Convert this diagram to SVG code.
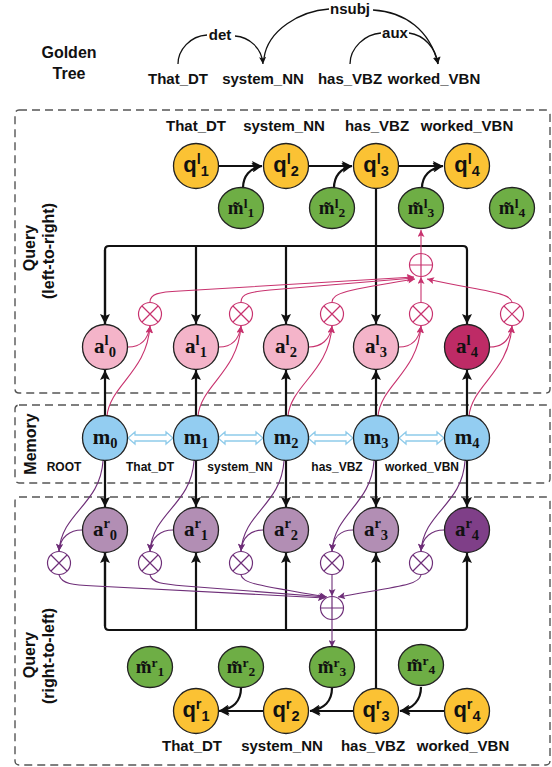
<svg xmlns="http://www.w3.org/2000/svg" width="552" height="767" viewBox="0 0 552 767">
<style>
text{font-family:"Liberation Sans",Arial,sans-serif;font-weight:bold;fill:#111}
.lbl{font-size:15px;text-anchor:middle}
.sm{font-size:12px;text-anchor:middle}
.side{font-size:16px;text-anchor:middle}
.box{fill:none;stroke:#555;stroke-width:1.4;stroke-dasharray:8 5}
.q{fill:#FBC234;stroke:#222;stroke-width:1.3}
.mt{fill:#6EAE45;stroke:#222;stroke-width:1.3}
.al{fill:#F4B4C9;stroke:#222;stroke-width:1.3}
.al4{fill:#BE2B66;stroke:#222;stroke-width:1.3}
.ar{fill:#B28EB4;stroke:#222;stroke-width:1.3}
.ar4{fill:#7F3F88;stroke:#222;stroke-width:1.3}
.m{fill:#93CDF1;stroke:#222;stroke-width:1.3}
.qt{font-size:22px;text-anchor:middle}
.st{font-family:"Liberation Serif","Times New Roman",serif;font-size:21px;text-anchor:middle}
.mtt{font-family:"Liberation Serif","Times New Roman",serif;font-size:19px;text-anchor:middle}
.sp{font-size:14.5px}
.sp2{font-size:13.5px}
.blk{fill:none;stroke:#111;stroke-width:2.2}
.thin{fill:none;stroke:#111;stroke-width:1.3}
.pk{fill:none;stroke:#C8326E;stroke-width:1.1}
.pu{fill:none;stroke:#6E2E78;stroke-width:1.1}
.opk{fill:#fff;stroke:#C8326E;stroke-width:1.2}
.opu{fill:#fff;stroke:#6E2E78;stroke-width:1.2}
.hol{fill:#fff;stroke:#8FCBEA;stroke-width:1.3}
</style>
<defs>
<marker id="ab" viewBox="0 0 10 10" refX="10" refY="5" markerWidth="11" markerHeight="10" markerUnits="userSpaceOnUse" orient="auto"><path d="M0,0 L10,5 L0,10 L2,5z" fill="#111"/></marker>
<marker id="at" viewBox="0 0 10 10" refX="10" refY="5" markerWidth="8" markerHeight="7" markerUnits="userSpaceOnUse" orient="auto"><path d="M0,0 L10,5 L0,10 L2,5z" fill="#111"/></marker>
<marker id="ap" viewBox="0 0 10 10" refX="10" refY="5" markerWidth="8" markerHeight="7" markerUnits="userSpaceOnUse" orient="auto"><path d="M0,0 L10,5 L0,10 L2,5z" fill="#C8326E"/></marker>
<marker id="au" viewBox="0 0 10 10" refX="10" refY="5" markerWidth="8" markerHeight="7" markerUnits="userSpaceOnUse" orient="auto"><path d="M0,0 L10,5 L0,10 L2,5z" fill="#6E2E78"/></marker>
<g id="otimes-pk"><circle r="11.5" class="opk"/><path d="M-8,-8 L8,8 M-8,8 L8,-8" stroke="#C8326E" stroke-width="1.2"/></g>
<g id="otimes-pu"><circle r="11.5" class="opu"/><path d="M-8,-8 L8,8 M-8,8 L8,-8" stroke="#6E2E78" stroke-width="1.2"/></g>
<path id="dbl" d="M0,0 L7,-6 L7,-3 L38,-3 L38,-6 L45,0 L38,6 L38,3 L7,3 L7,6 Z" class="hol"/>
</defs>

<!-- Golden tree -->
<g id="golden">
<text x="69" y="58" class="side">Golden</text>
<text x="69" y="79" class="side">Tree</text>
<text x="178" y="84" class="lbl">That_DT</text>
<text x="263" y="84" class="lbl">system_NN</text>
<text x="350" y="84" class="lbl">has_VBZ</text>
<text x="434" y="84" class="lbl">worked_VBN</text>
<text x="220" y="40" class="lbl">det</text>
<text x="350" y="14" class="lbl">nsubj</text>
<text x="395" y="38" class="lbl">aux</text>
<path class="thin" d="M178,64 C178,50 190,36 207,35"/>
<path class="thin" d="M235,36 C249,37 262,48 263,64" marker-end="url(#at)"/>
<path class="thin" d="M264,58 C268,30 300,11 329,9"/>
<path class="thin" d="M373,10 C405,12 430,30 438,64" marker-end="url(#at)"/>
<path class="thin" d="M350,64 C350,48 365,34 381,33"/>
<path class="thin" d="M409,33 C424,35 436,48 438,64" marker-end="url(#at)"/>
</g>

<!-- dashed boxes -->
<rect class="box" x="15" y="110" width="535" height="283" rx="4"/>
<rect class="box" x="15" y="405" width="535" height="78" rx="4"/>
<rect class="box" x="15" y="497" width="535" height="268" rx="4"/>
<g id="sidelabels">
<text class="side" transform="translate(35,248) rotate(-90)">Query</text>
<text class="side" transform="translate(54,251) rotate(-90)">(left-to-right)</text>
<text class="side" transform="translate(36,444) rotate(-90)">Memory</text>
<text class="side" transform="translate(35,655) rotate(-90)">Query</text>
<text class="side" transform="translate(54,656) rotate(-90)">(right-to-left)</text>
</g>

<!-- connectors -->
<g id="connectors">
<path class="blk" d="M218,166 L262,166" marker-end="url(#ab)"/>
<path class="blk" d="M308,166 L352,166" marker-end="url(#ab)"/>
<path class="blk" d="M399,166 L443,166" marker-end="url(#ab)"/>
<path class="blk" d="M243,188 C243,176 250,168 262,166" marker-end="url(#ab)"/>
<path class="blk" d="M334,188 C334,176 341,168 352,166" marker-end="url(#ab)"/>
<path class="blk" d="M422,188 C422,176 430,168 443,166" marker-end="url(#ab)"/>
<path class="blk" d="M376,189 L376,246"/>
<path class="blk" d="M105,324 L105,250 Q105,246 109,246 L463,246 Q467,246 467,250 L467,324" marker-end="url(#ab)"/>
<path class="blk" d="M105,250 L105,324" marker-end="url(#ab)"/>
<path class="blk" d="M196,246 L196,324" marker-end="url(#ab)"/>
<path class="blk" d="M286,246 L286,324" marker-end="url(#ab)"/>
<path class="blk" d="M376,246 L376,324" marker-end="url(#ab)"/>
<path class="blk" d="M105,415 L105,370" marker-end="url(#ab)"/>
<path class="blk" d="M196,415 L196,370" marker-end="url(#ab)"/>
<path class="blk" d="M286,415 L286,370" marker-end="url(#ab)"/>
<path class="blk" d="M376,415 L376,370" marker-end="url(#ab)"/>
<path class="blk" d="M467,415 L467,370" marker-end="url(#ab)"/>
<path class="blk" d="M105,461 L105,507" marker-end="url(#ab)"/>
<path class="blk" d="M196,461 L196,507" marker-end="url(#ab)"/>
<path class="blk" d="M286,461 L286,507" marker-end="url(#ab)"/>
<path class="blk" d="M376,461 L376,507" marker-end="url(#ab)"/>
<path class="blk" d="M467,461 L467,507" marker-end="url(#ab)"/>
<path class="blk" d="M105,553 L105,626 Q105,630 109,630 L463,630 Q467,630 467,626 L467,553" marker-end="url(#ab)"/>
<path class="blk" d="M105,626 L105,553" marker-end="url(#ab)"/>
<path class="blk" d="M196,630 L196,553" marker-end="url(#ab)"/>
<path class="blk" d="M286,630 L286,553" marker-end="url(#ab)"/>
<path class="blk" d="M376,688 L376,553" marker-end="url(#ab)"/>
<path class="blk" d="M444,711 L400,711" marker-end="url(#ab)"/>
<path class="blk" d="M354,711 L310,711" marker-end="url(#ab)"/>
<path class="blk" d="M263,711 L219,711" marker-end="url(#ab)"/>
<path class="blk" d="M421,687 C421,700 413,709 400,711" marker-end="url(#ab)"/>
<path class="blk" d="M332,688 C332,701 324,709 310,711" marker-end="url(#ab)"/>
<path class="blk" d="M241,688 C241,701 233,709 219,711" marker-end="url(#ab)"/>

<use href="#dbl" x="128" y="438"/>
<use href="#dbl" x="218" y="438"/>
<use href="#dbl" x="308" y="438"/>
<use href="#dbl" x="399" y="438"/>

<path class="pk" d="M128,347 C140,347 148,340 150,326" marker-end="url(#ap)"/>
<path class="pk" d="M107,416 C110,385 147,372 150,326" marker-end="url(#ap)"/>
<path class="pk" d="M219,347 C231,347 239,340 241,326" marker-end="url(#ap)"/>
<path class="pk" d="M198,416 C201,385 238,372 241,326" marker-end="url(#ap)"/>
<path class="pk" d="M309,347 C321,347 330,340 332,326" marker-end="url(#ap)"/>
<path class="pk" d="M288,416 C291,385 329,372 332,326" marker-end="url(#ap)"/>
<path class="pk" d="M399,347 C411,347 419,340 421,326" marker-end="url(#ap)"/>
<path class="pk" d="M378,416 C381,385 418,372 421,326" marker-end="url(#ap)"/>
<path class="pk" d="M490,347 C502,347 510,340 512,326" marker-end="url(#ap)"/>
<path class="pk" d="M469,416 C472,385 509,372 512,326" marker-end="url(#ap)"/>
<path class="pk" d="M150,302 C150,294 158,292 180,291 L414,277" marker-end="url(#ap)"/>
<path class="pk" d="M241,302 C241,294 249,292 270,290 L414,278" marker-end="url(#ap)"/>
<path class="pk" d="M332,302 C333,293 345,290 415,279" marker-end="url(#ap)"/>
<path class="pk" d="M421,302 L421,277" marker-end="url(#ap)"/>
<path class="pk" d="M512,302 C510,292 480,291 427,279" marker-end="url(#ap)"/>
<path class="pk" d="M421,253 L421,230" marker-end="url(#ap)"/>

<path class="pu" d="M103,461 C100,505 62,512 59,551" marker-end="url(#au)"/>
<path class="pu" d="M82,530 C70,530 60,537 59,551" marker-end="url(#au)"/>
<path class="pu" d="M194,461 C191,505 153,512 150,551" marker-end="url(#au)"/>
<path class="pu" d="M173,530 C161,530 151,537 150,551" marker-end="url(#au)"/>
<path class="pu" d="M284,461 C281,505 244,512 241,551" marker-end="url(#au)"/>
<path class="pu" d="M263,530 C251,530 242,537 241,551" marker-end="url(#au)"/>
<path class="pu" d="M374,461 C371,505 335,512 332,551" marker-end="url(#au)"/>
<path class="pu" d="M353,530 C341,530 333,537 332,551" marker-end="url(#au)"/>
<path class="pu" d="M465,461 C462,505 424,512 421,551" marker-end="url(#au)"/>
<path class="pu" d="M444,530 C432,530 422,537 421,551" marker-end="url(#au)"/>
<path class="pu" d="M59,575 C62,584 72,585 95,586 L325,598" marker-end="url(#au)"/>
<path class="pu" d="M150,575 C152,583 162,584 185,586 L326,597" marker-end="url(#au)"/>
<path class="pu" d="M241,575 C243,583 255,585 327,597" marker-end="url(#au)"/>
<path class="pu" d="M332,575 L332,596" marker-end="url(#au)"/>
<path class="pu" d="M421,575 C419,585 400,586 338,597" marker-end="url(#au)"/>
<path class="pu" d="M332,620 L332,647" marker-end="url(#au)"/>
</g>

<g id="mul-l0"><use href="#otimes-pk" x="150" y="314"/></g>
<g id="mul-l1"><use href="#otimes-pk" x="241" y="314"/></g>
<g id="mul-l2"><use href="#otimes-pk" x="332" y="314"/></g>
<g id="mul-l3"><use href="#otimes-pk" x="421" y="314"/></g>
<g id="mul-l4"><use href="#otimes-pk" x="512" y="314"/></g>
<g id="sum-l"><circle cx="421" cy="265" r="11.5" class="opk"/><path d="M409.5,265 L432.5,265 M421,253.5 L421,276.5" stroke="#C8326E" stroke-width="1.2"/></g>
<g id="mul-r0"><use href="#otimes-pu" x="59" y="563"/></g>
<g id="mul-r1"><use href="#otimes-pu" x="150" y="563"/></g>
<g id="mul-r2"><use href="#otimes-pu" x="241" y="563"/></g>
<g id="mul-r3"><use href="#otimes-pu" x="332" y="563"/></g>
<g id="mul-r4"><use href="#otimes-pu" x="421" y="563"/></g>
<g id="sum-r"><circle cx="332" cy="608" r="11.5" class="opu"/><path d="M320.5,608 L343.5,608 M332,596.5 L332,619.5" stroke="#6E2E78" stroke-width="1.2"/></g>

<g id="lbl-l">
<text x="196" y="131" class="lbl">That_DT</text>
<text x="284" y="131" class="lbl">system_NN</text>
<text x="377" y="131" class="lbl">has_VBZ</text>
<text x="467" y="131" class="lbl">worked_VBN</text>
</g>
<g id="ql1"><circle cx="196" cy="166" r="22.5" class="q"/><text x="196" y="172" class="qt">q<tspan class="sp" dy="-8">l</tspan><tspan class="sp" dy="12">1</tspan></text></g>
<g id="ql2"><circle cx="286" cy="166" r="22.5" class="q"/><text x="286" y="172" class="qt">q<tspan class="sp" dy="-8">l</tspan><tspan class="sp" dy="12">2</tspan></text></g>
<g id="ql3"><circle cx="376" cy="166" r="22.5" class="q"/><text x="376" y="172" class="qt">q<tspan class="sp" dy="-8">l</tspan><tspan class="sp" dy="12">3</tspan></text></g>
<g id="ql4"><circle cx="467" cy="166" r="22.5" class="q"/><text x="467" y="172" class="qt">q<tspan class="sp" dy="-8">l</tspan><tspan class="sp" dy="12">4</tspan></text></g>
<g id="mtl1"><ellipse cx="241" cy="208" rx="22.5" ry="20.5" class="mt"/><text x="241" y="214" class="mtt">m̃<tspan class="sp2" dy="-6">l</tspan><tspan class="sp2" dy="9">1</tspan></text></g>
<g id="mtl2"><ellipse cx="332" cy="208" rx="22.5" ry="20.5" class="mt"/><text x="332" y="214" class="mtt">m̃<tspan class="sp2" dy="-6">l</tspan><tspan class="sp2" dy="9">2</tspan></text></g>
<g id="mtl3"><ellipse cx="421" cy="208" rx="22.5" ry="20.5" class="mt"/><text x="421" y="214" class="mtt">m̃<tspan class="sp2" dy="-6">l</tspan><tspan class="sp2" dy="9">3</tspan></text></g>
<g id="mtl4"><ellipse cx="512" cy="208" rx="22.5" ry="20.5" class="mt"/><text x="512" y="214" class="mtt">m̃<tspan class="sp2" dy="-6">l</tspan><tspan class="sp2" dy="9">4</tspan></text></g>
<g id="al0"><circle cx="105" cy="347" r="22.5" class="al"/><text x="105" y="353" class="st">a<tspan class="sp" dy="-8">l</tspan><tspan class="sp" dy="12">0</tspan></text></g>
<g id="al1"><circle cx="196" cy="347" r="22.5" class="al"/><text x="196" y="353" class="st">a<tspan class="sp" dy="-8">l</tspan><tspan class="sp" dy="12">1</tspan></text></g>
<g id="al2"><circle cx="286" cy="347" r="22.5" class="al"/><text x="286" y="353" class="st">a<tspan class="sp" dy="-8">l</tspan><tspan class="sp" dy="12">2</tspan></text></g>
<g id="al3"><circle cx="376" cy="347" r="22.5" class="al"/><text x="376" y="353" class="st">a<tspan class="sp" dy="-8">l</tspan><tspan class="sp" dy="12">3</tspan></text></g>
<g id="al4"><circle cx="467" cy="347" r="22.5" class="al4"/><text x="467" y="353" class="st">a<tspan class="sp" dy="-8">l</tspan><tspan class="sp" dy="12">4</tspan></text></g>

<g id="m0"><circle cx="105" cy="438" r="22.5" class="m"/><text x="105" y="444" class="st">m<tspan class="sp" dy="4">0</tspan></text></g>
<g id="m1"><circle cx="196" cy="438" r="22.5" class="m"/><text x="196" y="444" class="st">m<tspan class="sp" dy="4">1</tspan></text></g>
<g id="m2"><circle cx="286" cy="438" r="22.5" class="m"/><text x="286" y="444" class="st">m<tspan class="sp" dy="4">2</tspan></text></g>
<g id="m3"><circle cx="376" cy="438" r="22.5" class="m"/><text x="376" y="444" class="st">m<tspan class="sp" dy="4">3</tspan></text></g>
<g id="m4"><circle cx="467" cy="438" r="22.5" class="m"/><text x="467" y="444" class="st">m<tspan class="sp" dy="4">4</tspan></text></g>
<g id="lbl-m">
<text x="64" y="471" class="sm">ROOT</text>
<text x="150" y="471" class="sm">That_DT</text>
<text x="240" y="471" class="sm">system_NN</text>
<text x="337" y="471" class="sm">has_VBZ</text>
<text x="422" y="471" class="sm">worked_VBN</text>
</g>

<g id="ar0"><circle cx="105" cy="530" r="22.5" class="ar"/><text x="105" y="536" class="st">a<tspan class="sp" dy="-8">r</tspan><tspan class="sp" dy="12">0</tspan></text></g>
<g id="ar1"><circle cx="196" cy="530" r="22.5" class="ar"/><text x="196" y="536" class="st">a<tspan class="sp" dy="-8">r</tspan><tspan class="sp" dy="12">1</tspan></text></g>
<g id="ar2"><circle cx="286" cy="530" r="22.5" class="ar"/><text x="286" y="536" class="st">a<tspan class="sp" dy="-8">r</tspan><tspan class="sp" dy="12">2</tspan></text></g>
<g id="ar3"><circle cx="376" cy="530" r="22.5" class="ar"/><text x="376" y="536" class="st">a<tspan class="sp" dy="-8">r</tspan><tspan class="sp" dy="12">3</tspan></text></g>
<g id="ar4"><circle cx="467" cy="530" r="22.5" class="ar4"/><text x="467" y="536" class="st">a<tspan class="sp" dy="-8">r</tspan><tspan class="sp" dy="12">4</tspan></text></g>
<g id="mtr1"><ellipse cx="150" cy="667" rx="22.5" ry="20.5" class="mt"/><text x="150" y="673" class="mtt">m̃<tspan class="sp2" dy="-6">r</tspan><tspan class="sp2" dy="9">1</tspan></text></g>
<g id="mtr2"><ellipse cx="241" cy="667" rx="22.5" ry="20.5" class="mt"/><text x="241" y="673" class="mtt">m̃<tspan class="sp2" dy="-6">r</tspan><tspan class="sp2" dy="9">2</tspan></text></g>
<g id="mtr3"><ellipse cx="332" cy="667" rx="22.5" ry="20.5" class="mt"/><text x="332" y="673" class="mtt">m̃<tspan class="sp2" dy="-6">r</tspan><tspan class="sp2" dy="9">3</tspan></text></g>
<g id="mtr4"><ellipse cx="421" cy="665" rx="22.5" ry="20.5" class="mt"/><text x="421" y="671" class="mtt">m̃<tspan class="sp2" dy="-6">r</tspan><tspan class="sp2" dy="9">4</tspan></text></g>
<g id="qr1"><circle cx="196" cy="711" r="22.5" class="q"/><text x="196" y="717" class="qt">q<tspan class="sp" dy="-8">r</tspan><tspan class="sp" dy="12">1</tspan></text></g>
<g id="qr2"><circle cx="286" cy="711" r="22.5" class="q"/><text x="286" y="717" class="qt">q<tspan class="sp" dy="-8">r</tspan><tspan class="sp" dy="12">2</tspan></text></g>
<g id="qr3"><circle cx="376" cy="711" r="22.5" class="q"/><text x="376" y="717" class="qt">q<tspan class="sp" dy="-8">r</tspan><tspan class="sp" dy="12">3</tspan></text></g>
<g id="qr4"><circle cx="467" cy="711" r="22.5" class="q"/><text x="467" y="717" class="qt">q<tspan class="sp" dy="-8">r</tspan><tspan class="sp" dy="12">4</tspan></text></g>
<g id="lbl-r">
<text x="192" y="751" class="lbl">That_DT</text>
<text x="282" y="751" class="lbl">system_NN</text>
<text x="373" y="751" class="lbl">has_VBZ</text>
<text x="463" y="751" class="lbl">worked_VBN</text>
</g>
</svg>
